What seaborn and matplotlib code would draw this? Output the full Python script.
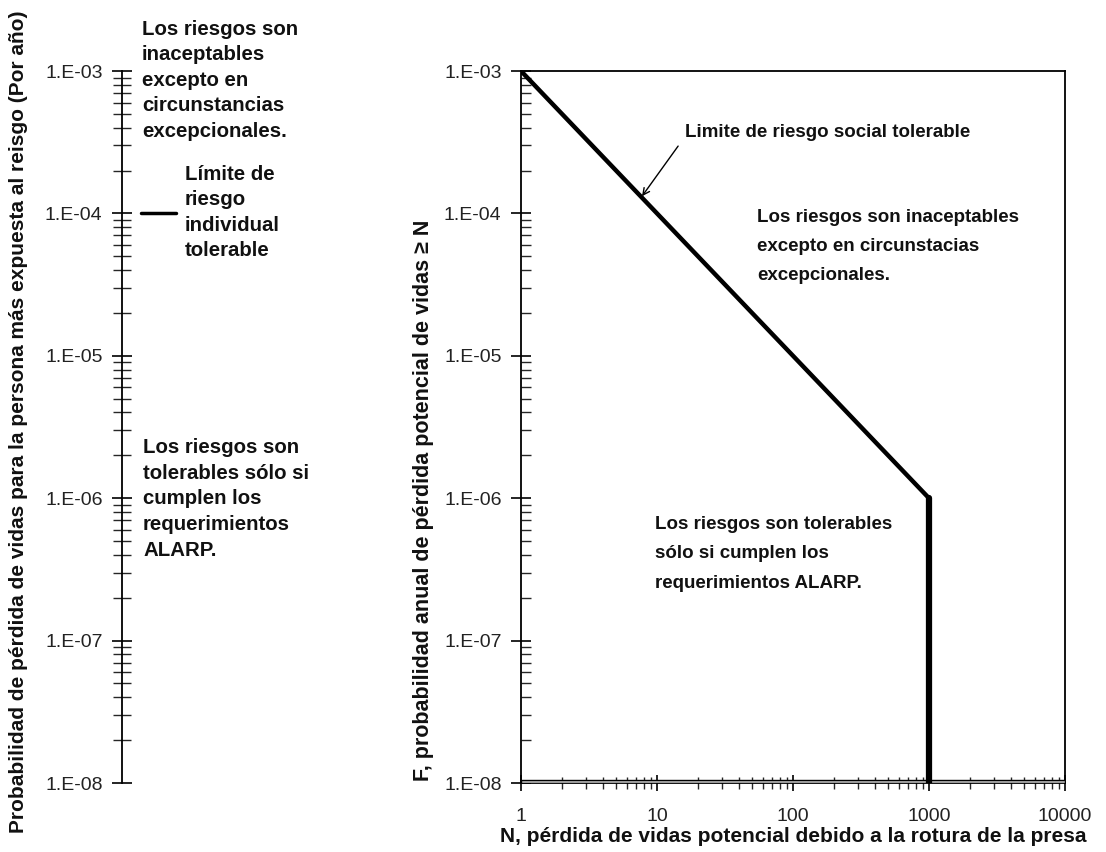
import numpy as np
import pandas as pd
import matplotlib
matplotlib.use('Agg')
import matplotlib.pyplot as plt
from matplotlib.ticker import FixedLocator, LogLocator, NullFormatter
import seaborn as sns

sns.set_theme(style='white')
plt.rcParams['font.family'] = ['Liberation Sans', 'DejaVu Sans']

# data
social_N = [1, 1000]          # tolerable societal risk limit (F-N line)
social_F = [1e-3, 1e-6]
cutoff_N = [1000, 1000]       # vertical cut at N = 1000
cutoff_F = [1e-6, 1e-8]
individual_limit = 1e-4       # tolerable individual risk

y_ticks = [1e-3, 1e-4, 1e-5, 1e-6, 1e-7, 1e-8]
y_tick_labels = ["1.E-03", "1.E-04", "1.E-05", "1.E-06", "1.E-07", "1.E-08"]
x_ticks = [1, 10, 100, 1000, 10000]
x_tick_labels = ["1", "10", "100", "1000", "10000"]

W, H = 1106, 852
fig = plt.figure(figsize=(W / 100, H / 100), dpi=100)

y_bot = 1 - 783 / H
y_h = (783 - 71) / H
lw_px = 250
ax1 = fig.add_axes([122 / W, y_bot, lw_px / W, y_h])
ax2 = fig.add_axes([521 / W, y_bot, 544 / W, y_h])

tick_kw = dict(labelsize=14, labelcolor='#222222', colors='black')
bold_l = dict(fontsize=14.7, fontweight='bold', color='#111111')
bold_r = dict(fontsize=13.5, fontweight='bold', color='#111111')
label_kw = dict(fontsize=15, fontweight='bold', color='#111111')

# ---- left panel: individual risk
ax1.set_yscale('log')
ax1.set_ylim(1e-8, 1e-3)
ax1.set_xlim(0, 1)
for s in ['top', 'right', 'bottom']:
    ax1.spines[s].set_visible(False)
ax1.spines['left'].set_color('black')
ax1.spines['left'].set_linewidth(1.3)
ax1.set_xticks([])
ax1.yaxis.set_major_locator(FixedLocator(y_ticks))
ax1.set_yticklabels(y_tick_labels)
ax1.yaxis.set_minor_locator(LogLocator(base=10, subs=np.arange(2, 10)))
ax1.yaxis.set_minor_formatter(NullFormatter())
ax1.tick_params(axis='y', which='major', direction='inout', length=15, width=1.2, left=True, pad=6.5, **tick_kw)
ax1.tick_params(axis='y', which='minor', direction='inout', length=13, width=1.0, left=True)
ax1.set_facecolor('none')

sns.lineplot(x=[0.075, 0.215], y=[individual_limit, individual_limit], ax=ax1,
             color='black', lw=2.5, estimator=None, sort=False)

ax1.text(0.08, 1.0716, "Los riesgos son\ninaceptables\nexcepto en\ncircunstancias\nexcepcionales.",
         transform=ax1.transAxes, va='top', ha='left', linespacing=1.43, **bold_l)
ax1.text(0.252, 0.868, "Límite de\nriesgo\nindividual\ntolerable",
         transform=ax1.transAxes, va='top', ha='left', linespacing=1.43, **bold_l)
ax1.text(0.084, 0.4846, "Los riesgos son\ntolerables sólo si\ncumplen los\nrequerimientos\nALARP.",
         transform=ax1.transAxes, va='top', ha='left', linespacing=1.45, **bold_l)

ax1.set_ylabel("Probabilidad de pérdida de vidas para la persona más expuesta al reisgo (Por año)",
               **label_kw)
ax1.yaxis.set_label_coords((28 - 122) / lw_px, 0.508)

# ---- right panel: F-N curve
ax2.set_xscale('log')
ax2.set_yscale('log')
ax2.set_xlim(1, 10000)
ax2.set_ylim(1e-8, 1e-3)
for s in ax2.spines.values():
    s.set_color('black')
    s.set_linewidth(1.3)

ax2.axhspan(1e-8, 10 ** (-8 + 3.5 / 142.4), facecolor='#c0c0c0', edgecolor='black', lw=1.0, zorder=3)

df_social = pd.DataFrame({'N': social_N, 'F': social_F})
df_cut = pd.DataFrame({'N': cutoff_N, 'F': cutoff_F})
sns.lineplot(data=df_social, x='N', y='F', ax=ax2, color='black', lw=3.2,
             estimator=None, sort=False, zorder=4)
sns.lineplot(data=df_cut, x='N', y='F', ax=ax2, color='black', lw=4.5,
             estimator=None, sort=False, zorder=4)

ax2.xaxis.set_major_locator(FixedLocator(x_ticks))
ax2.set_xticklabels(x_tick_labels)
ax2.xaxis.set_minor_locator(LogLocator(base=10, subs=np.arange(2, 10)))
ax2.xaxis.set_minor_formatter(NullFormatter())
ax2.yaxis.set_major_locator(FixedLocator(y_ticks))
ax2.set_yticklabels(y_tick_labels)
ax2.yaxis.set_minor_locator(LogLocator(base=10, subs=np.arange(2, 10)))
ax2.yaxis.set_minor_formatter(NullFormatter())
ax2.tick_params(axis='x', which='major', direction='inout', length=12, width=1.2, bottom=True, pad=12, **tick_kw)
ax2.tick_params(axis='x', which='minor', direction='inout', length=9, width=1.0, bottom=True)
ax2.tick_params(axis='y', which='major', direction='inout', length=15, width=1.2, left=True, pad=6.5, **tick_kw)
ax2.tick_params(axis='y', which='minor', direction='in', length=7, width=1.0, left=True)

ax2.text(0.3015, 0.913, "Limite de riesgo social tolerable",
         transform=ax2.transAxes, va='center', ha='left', **bold_r)
ax2.annotate('', xy=(7.76, 1.32e-4), xytext=(14.3, 2.97e-4),
             arrowprops=dict(arrowstyle='->', lw=1.0, color='black', shrinkA=0, shrinkB=0))
ax2.text(0.434, 0.806, "Los riesgos son inaceptables\nexcepto en circunstacias\nexcepcionales.",
         transform=ax2.transAxes, va='top', ha='left', linespacing=1.9, **bold_r)
ax2.text(0.246, 0.375, "Los riesgos son tolerables\nsólo si cumplen los\nrequerimientos ALARP.",
         transform=ax2.transAxes, va='top', ha='left', linespacing=1.95, **bold_r)

ax2.set_xlabel("N, pérdida de vidas potencial debido a la rotura de la presa", **label_kw)
ax2.xaxis.set_label_coords(0.5, -(827 - 783) / 712)
ax2.set_ylabel("F, probabilidad anual de pérdida potencial de vidas ≥ N", fontsize=15.5,
               fontweight='bold', color='#111111')
ax2.yaxis.set_label_coords((434 - 521) / 544, 0.397)

fig.savefig('out.png', dpi=100, facecolor='white')
